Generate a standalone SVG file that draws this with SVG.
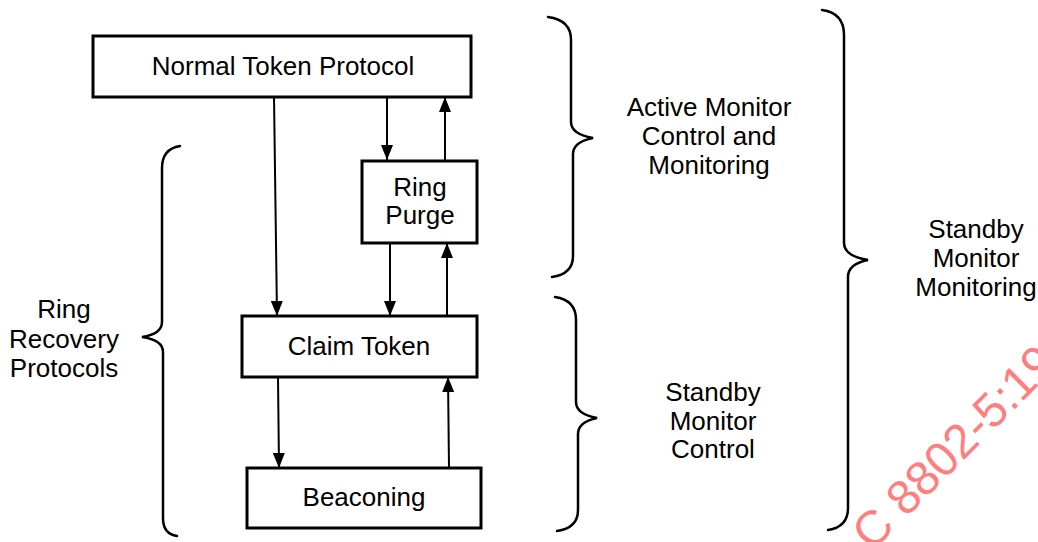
<svg xmlns="http://www.w3.org/2000/svg" width="1038" height="542" viewBox="0 0 1038 542">
<style>
.box{fill:#fff;stroke:#000;stroke-width:3}
.lbl{font-family:"Liberation Sans",Arial,Helvetica,sans-serif;font-size:26px;fill:#000;text-anchor:middle}
.conn{stroke:#000;stroke-width:2;fill:none}
.brace{stroke:#000;stroke-width:2.5;fill:none;stroke-linecap:round}
.wm{font-family:"Liberation Sans",Arial,sans-serif;font-size:48px;fill:#ff7f7f}
</style>
<defs>
<marker id="ah" viewBox="0 0 15 12" refX="15" refY="6" markerWidth="15" markerHeight="12" markerUnits="userSpaceOnUse" orient="auto">
<path d="M0,0 L15,6 L0,12 z" fill="#000"/>
</marker>
</defs>
<rect width="1038" height="542" fill="#fff"/>
<g id="connectors">
<line class="conn" x1="274" y1="97" x2="277" y2="316" marker-end="url(#ah)"/>
<line class="conn" x1="387" y1="97" x2="387" y2="160" marker-end="url(#ah)"/>
<line class="conn" x1="445" y1="160" x2="445" y2="97" marker-end="url(#ah)"/>
<line class="conn" x1="390" y1="243" x2="390" y2="316" marker-end="url(#ah)"/>
<line class="conn" x1="447" y1="316" x2="447" y2="243" marker-end="url(#ah)"/>
<line class="conn" x1="278" y1="377" x2="279" y2="468" marker-end="url(#ah)"/>
<line class="conn" x1="449" y1="468" x2="448" y2="377" marker-end="url(#ah)"/>
</g>
<g id="normal-token-protocol">
<rect class="box" x="93" y="36" width="378" height="61"/>
<text class="lbl" x="283" y="75">Normal Token Protocol</text>
</g>
<g id="ring-purge">
<rect class="box" x="362" y="161" width="115" height="82"/>
<text class="lbl" x="420" y="196">Ring</text>
<text class="lbl" x="420" y="224">Purge</text>
</g>
<g id="claim-token">
<rect class="box" x="242" y="316" width="235" height="61"/>
<text class="lbl" x="359" y="355">Claim Token</text>
</g>
<g id="beaconing">
<rect class="box" x="247" y="468" width="234" height="60"/>
<text class="lbl" x="364" y="506">Beaconing</text>
</g>
<g id="ring-recovery-protocols">
<path class="brace" d="M180,146 Q162,149 162,168 L162,322 Q162,334 142,337 Q163,340 163,352 L163,518 Q163,534 177,536"/>
<text class="lbl" x="64" y="318">Ring</text>
<text class="lbl" x="64" y="348">Recovery</text>
<text class="lbl" x="64" y="377">Protocols</text>
</g>
<g id="active-monitor-control">
<path class="brace" d="M548,17 Q571,20 571,40 L571,122 Q571,134 593,138 Q573,142 573,154 L573,256 Q573,274 552,277"/>
<text class="lbl" x="709" y="116">Active Monitor</text>
<text class="lbl" x="709" y="145">Control and</text>
<text class="lbl" x="709" y="174">Monitoring</text>
</g>
<g id="standby-monitor-control">
<path class="brace" d="M555,297 Q576,300 576,320 L576,402 Q576,414 597,418 Q578,422 578,434 L578,510 Q578,528 557,531"/>
<text class="lbl" x="713" y="401">Standby</text>
<text class="lbl" x="713" y="430">Monitor</text>
<text class="lbl" x="713" y="458">Control</text>
</g>
<g id="standby-monitor-monitoring">
<path class="brace" d="M822,10 Q844,13 844,35 L844,243 Q844,256 868,260 Q848,264 848,277 L848,508 Q848,527 828,530"/>
<text class="lbl" x="976" y="238">Standby</text>
<text class="lbl" x="976" y="267">Monitor</text>
<text class="lbl" x="976" y="296">Monitoring</text>
</g>
<text class="wm" transform="translate(872,552) rotate(-45)">C 8802-5:19</text>
</svg>
